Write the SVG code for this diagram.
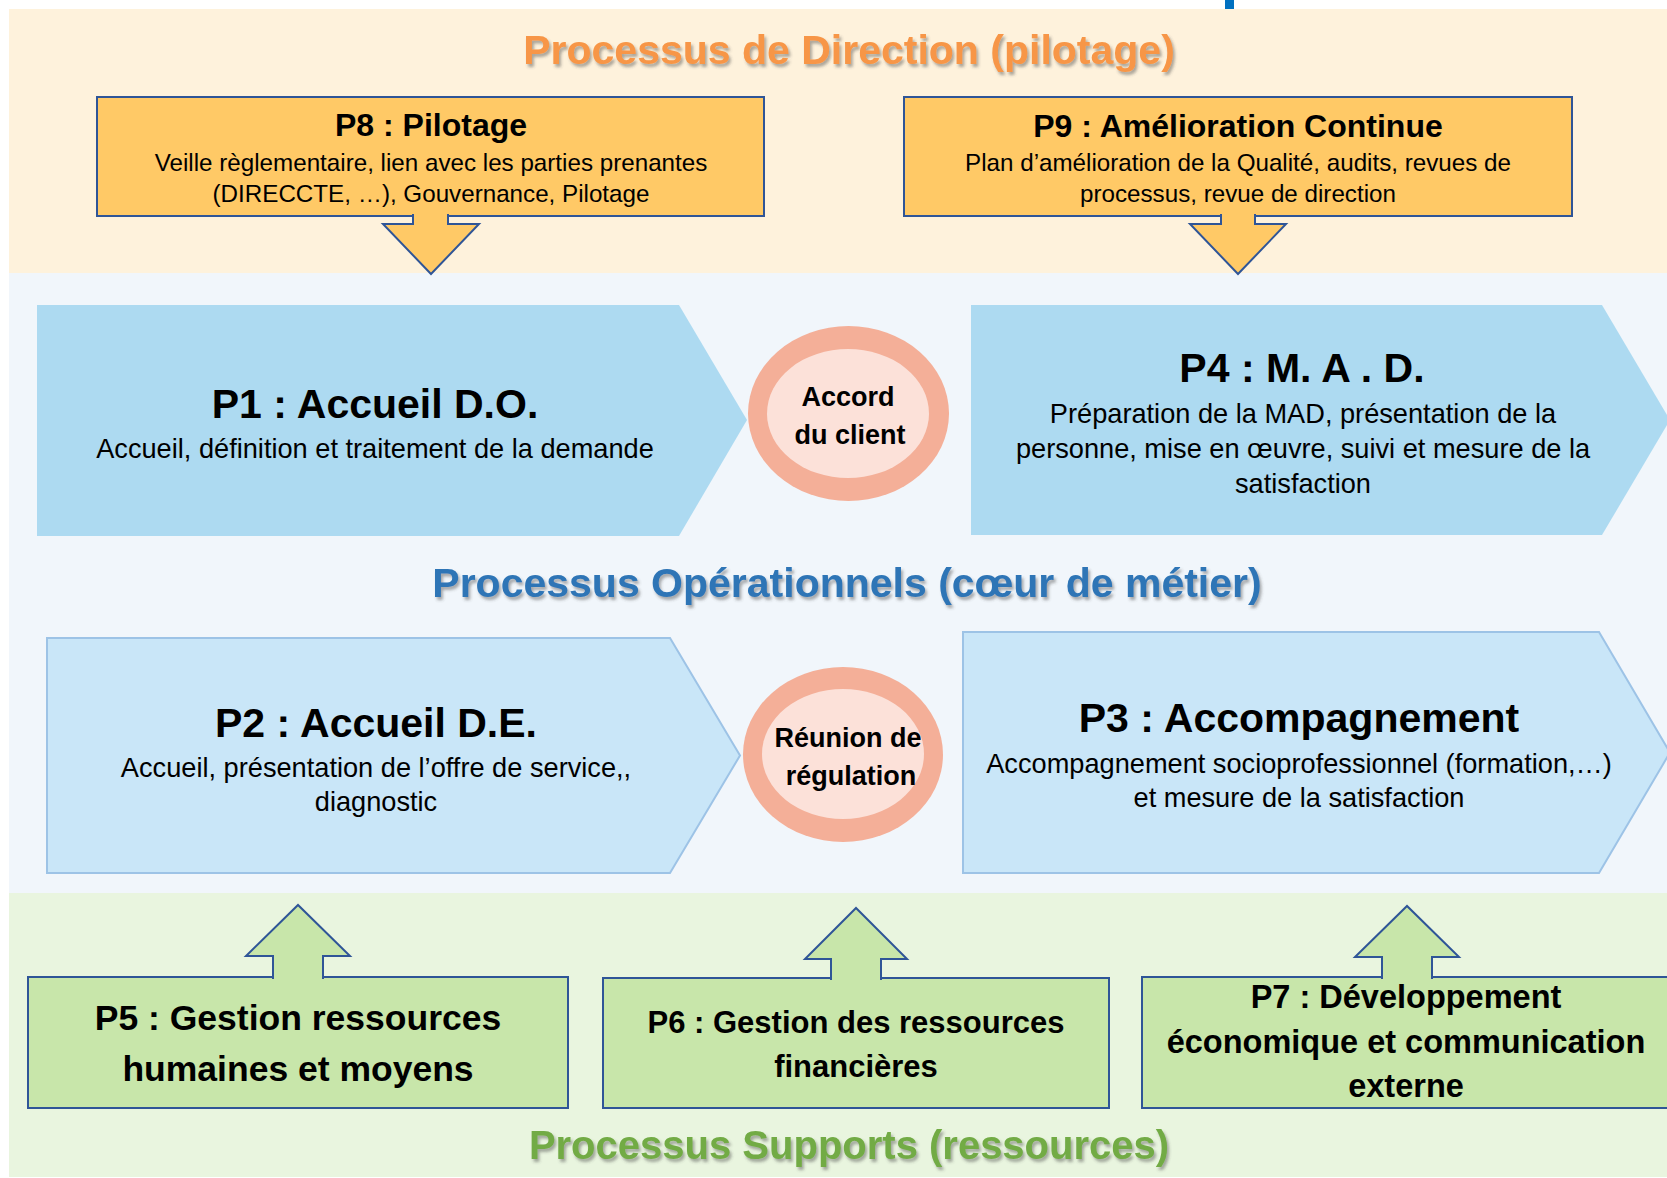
<svg xmlns="http://www.w3.org/2000/svg" width="1667" height="1178" viewBox="0 0 1667 1178">
<defs>
<filter id="shadow" x="-5%" y="-20%" width="110%" height="150%">
<feDropShadow dx="2" dy="3" stdDeviation="1.5" flood-color="#444" flood-opacity="0.45"/>
</filter>
</defs>
<style>
text{font-family:"Liberation Sans",Arial,sans-serif;text-anchor:middle;fill:#000}
.sec{font-size:41px;font-weight:bold;filter:url(#shadow)}
.dir{fill:#F79646}
.op{fill:#2E75B6}
.sup{fill:#72AB45}
.ybox{fill:#FFC966;stroke:#2F5597;stroke-width:2}
.gbox{fill:#C8E6AA;stroke:#2F5597;stroke-width:2}
.dark{fill:#ADDAF1}
.light{fill:#C9E6F8;stroke:#9DC3E6;stroke-width:2}
.ring{fill:#F4AF98}
.core{fill:#FCE1D9}
.arrY{fill:#FFC966;stroke:#2F5597;stroke-width:2;stroke-linejoin:miter}
.arrG{fill:#C8E6AA;stroke:#2F5597;stroke-width:2;stroke-linejoin:miter}
.t32{font-size:32px;font-weight:bold}
.b24{font-size:24.2px}
.t41{font-size:41px;font-weight:bold}
.b27{font-size:27.2px}
.c27{font-size:27px;font-weight:bold}
</style>
<rect x="0" y="0" width="1667" height="1178" fill="#FFFFFF"/>
<g id="bands">
<rect x="9" y="9" width="1658" height="264" fill="#FEF2DC"/>
<rect x="9" y="273" width="1658" height="620" fill="#F1F6FB"/>
<rect x="9" y="893" width="1658" height="284" fill="#E9F5DF"/>
<rect x="1225" y="0" width="9" height="9" fill="#0070C0"/>
</g>
<g id="title-direction"><text class="sec dir" x="849" y="64">Processus de Direction (pilotage)</text></g>
<g id="title-operationnels"><text class="sec op" x="847" y="597">Processus Opérationnels (cœur de métier)</text></g>
<g id="title-supports"><text class="sec sup" style="font-size:40px" x="849" y="1159">Processus Supports (ressources)</text></g>

<g id="P8">
<rect class="ybox" x="97" y="97" width="667" height="119"/>
<text class="t32" x="431" y="136">P8 : Pilotage</text>
<text class="b24" x="431" y="171">Veille règlementaire, lien avec les parties prenantes</text>
<text class="b24" x="431" y="202">(DIRECCTE, …), Gouvernance, Pilotage</text>
</g>
<g id="P9">
<rect class="ybox" x="904" y="97" width="668" height="119"/>
<text class="t32" x="1238" y="137">P9 : Amélioration Continue</text>
<text class="b24" x="1238" y="171">Plan d’amélioration de la Qualité, audits, revues de</text>
<text class="b24" x="1238" y="202">processus, revue de direction</text>
</g>

<g id="P1">
<polygon class="dark" points="37,305 679,305 747,420 679,536 37,536"/>
<text class="t41" x="375" y="418">P1 : Accueil D.O.</text>
<text class="b27" x="375" y="458">Accueil, définition et traitement de la demande</text>
</g>
<g id="accord">
<ellipse class="ring" cx="848.5" cy="413.5" rx="100.5" ry="87.5"/>
<ellipse class="core" cx="848" cy="413.5" rx="81" ry="64.5"/>
<text class="c27" x="848" y="406">Accord</text>
<text class="c27" x="850" y="444">du client</text>
</g>
<g id="P4">
<polygon class="dark" points="971,305 1602,305 1670,420 1602,535 971,535"/>
<text class="t41" x="1302" y="382">P4 : M. A . D.</text>
<text class="b27" x="1303" y="423">Préparation de la MAD, présentation de la</text>
<text class="b27" x="1303" y="458">personne, mise en œuvre, suivi et mesure de la</text>
<text class="b27" x="1303" y="493">satisfaction</text>
</g>

<g id="P2">
<polygon class="light" points="47,638 670,638 740,755.5 670,873 47,873"/>
<text class="t41" x="376" y="737">P2 : Accueil D.E.</text>
<text class="b27" x="376" y="777">Accueil, présentation de l’offre de service,,</text>
<text class="b27" x="376" y="811">diagnostic</text>
</g>
<g id="reunion">
<ellipse class="ring" cx="843" cy="754.5" rx="100" ry="87.5"/>
<ellipse class="core" cx="843" cy="754" rx="81" ry="65"/>
<text class="c27" x="848" y="747">Réunion de</text>
<text class="c27" x="851" y="785">régulation</text>
</g>
<g id="P3">
<polygon class="light" points="963,632 1599,632 1670,752.5 1599,873 963,873"/>
<text class="t41" x="1299" y="732">P3 : Accompagnement</text>
<text class="b27" x="1299" y="773">Accompagnement socioprofessionnel (formation,…)</text>
<text class="b27" x="1299" y="807">et mesure de la satisfaction</text>
</g>

<g id="P5">
<rect class="gbox" x="28" y="977" width="540" height="131"/>
<text class="c27" style="font-size:35.5px" x="298" y="1030">P5 : Gestion ressources</text>
<text class="c27" style="font-size:35.5px" x="298" y="1081">humaines et moyens</text>
</g>
<g id="P6">
<rect class="gbox" x="603" y="978" width="506" height="130"/>
<text class="c27" style="font-size:31px" x="856" y="1033">P6 : Gestion des ressources</text>
<text class="c27" style="font-size:31px" x="856" y="1077">financières</text>
</g>
<g id="P7">
<rect class="gbox" x="1142" y="977" width="530" height="131"/>
<text class="c27" style="font-size:32.5px" x="1406" y="1008">P7 : Développement</text>
<text class="c27" style="font-size:32.5px" x="1406" y="1053">économique et communication</text>
<text class="c27" style="font-size:32.5px" x="1406" y="1097">externe</text>
</g>

<g id="connectors">
<path class="arrY" d="M413,214 V224 H383 L431,274 L479,224 H448 V214"/>
<path class="arrY" d="M1221,214 V224 H1190 L1238,274 L1286,224 H1255 V214"/>
<path class="arrG" d="M273,979 V956 H246 L298,905 L350,956 H323 V979"/>
<path class="arrG" d="M831,980 V959 H805 L856,908 L907,959 H881 V980"/>
<path class="arrG" d="M1382,979 V957 H1355 L1407,906 L1459,957 H1432 V979"/>
</g>
</svg>
